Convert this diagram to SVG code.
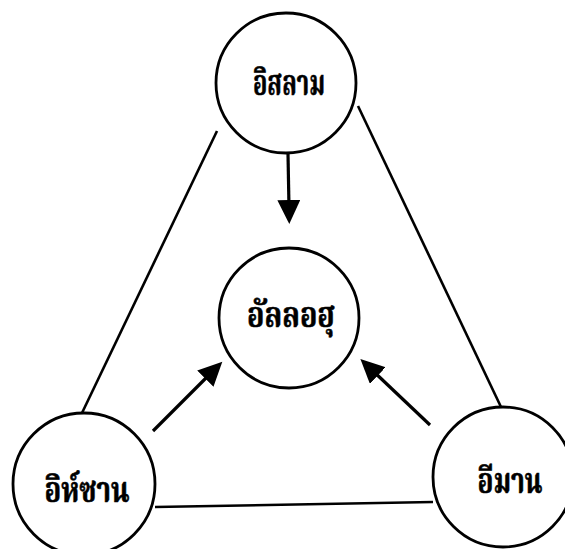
<svg xmlns="http://www.w3.org/2000/svg" width="565" height="549" viewBox="0 0 565 549">
  <style>
    .node circle { fill: #ffffff; stroke: #000000; stroke-width: 2.8; }
    .node text { font-family: "Noto Serif Thai", "Noto Sans Thai", serif; font-weight: bold; font-size: 36px; fill: #000000; stroke: #000000; stroke-width: 0.6; text-anchor: middle; }
    .edge { stroke: #000000; stroke-width: 2.6; fill: none; }
    .arrow { stroke: #000000; stroke-width: 3.2; fill: none; marker-end: url(#head); }
  </style>
  <defs>
    <marker id="head" markerUnits="userSpaceOnUse" markerWidth="26" markerHeight="24" refX="8" refY="11.5" orient="auto" viewBox="0 0 26 24">
      <path d="M0,0 L24,11.5 L0,23 Z" fill="#000000"/>
    </marker>
  </defs>
  <rect width="565" height="549" fill="#ffffff"/>
  <g id="connectors">
    <line class="edge" x1="217" y1="131" x2="82" y2="413"/>
    <line class="edge" x1="358" y1="106" x2="501" y2="407"/>
    <line class="edge" x1="155" y1="507" x2="433" y2="502"/>
    <line class="arrow" x1="288" y1="154" x2="289" y2="208"/>
    <line class="arrow" x1="153" y1="431" x2="211" y2="373"/>
    <line class="arrow" x1="430" y1="425" x2="372" y2="370"/>
  </g>
  <g id="islam" class="node">
    <circle cx="286" cy="83" r="70"/>
    <text x="289" y="95" textLength="72" lengthAdjust="spacingAndGlyphs">อิสลาม</text>
  </g>
  <g id="allah" class="node">
    <circle cx="289" cy="318" r="70"/>
    <text x="291" y="327" textLength="88" lengthAdjust="spacingAndGlyphs">อัลลอฮุ</text>
  </g>
  <g id="ihsan" class="node">
    <circle cx="84" cy="484" r="71"/>
    <text x="87" y="502" textLength="85" lengthAdjust="spacingAndGlyphs">อิห์ซาน</text>
  </g>
  <g id="iman" class="node">
    <circle cx="503" cy="477" r="70"/>
    <text x="510" y="493" textLength="65" lengthAdjust="spacingAndGlyphs">อีมาน</text>
  </g>
</svg>
